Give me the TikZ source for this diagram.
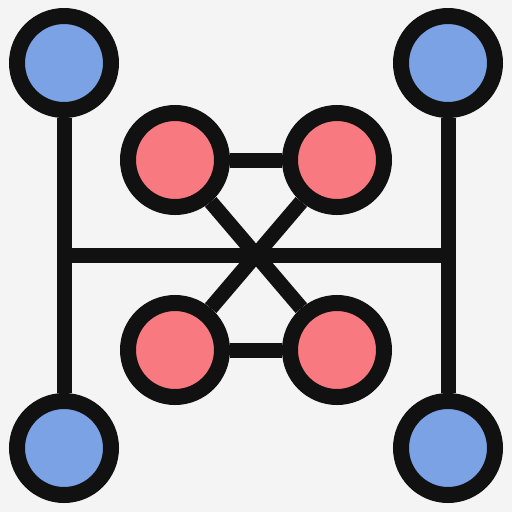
\documentclass[tikz,border=0pt]{standalone}
\usepackage{tikz}
\usetikzlibrary{positioning,calc}
\definecolor{bgGrey}{RGB}{244,244,244}
\definecolor{hubBlue}{RGB}{122,162,228}
\definecolor{coreRed}{RGB}{248,122,128}
\definecolor{inkBlack}{RGB}{17,17,17}
\begin{document}
\begin{tikzpicture}[
    hub/.style={circle, draw=inkBlack, fill=hubBlue, line width=0.32cm, minimum size=1.88cm, inner sep=0pt},
    core/.style={circle, draw=inkBlack, fill=coreRed, line width=0.32cm, minimum size=1.88cm, inner sep=0pt},
    wire/.style={draw=inkBlack, line width=0.3cm}
  ]
            \fill[bgGrey] (0,0) rectangle (10.24,-10.24);
            \useasboundingbox (0,0) rectangle (10.24,-10.24);

            % corner hubs
            \node (bluetl) [hub] at (1.28,-1.26) {};
            \node (bluetr) [hub, right of=bluetl, node distance=7.68cm] {};
            \node (bluebl) [hub, below of=bluetl, node distance=7.7cm] {};
            \node (bluebr) [hub, below of=bluetr, node distance=7.7cm] {};

            % inner cores
            \node (redtl) [core] at (3.5,-3.2) {};
            \node (redtr) [core, right of=redtl, node distance=3.24cm] {};
            \node (redbl) [core, below of=redtl, node distance=3.8cm] {};
            \node (redbr) [core, below of=redtr, node distance=3.8cm] {};

            \coordinate (midl) at ($(bluetl.center)!0.5!(bluebl.center)$);
            \coordinate (midr) at ($(bluetr.center)!0.5!(bluebr.center)$);

            \draw [wire] (bluetl) -- (bluebl);
            \draw [wire] (bluetr) -- (bluebr);
            \draw [wire] (midl) -- (midr);
            \draw [wire] (redtl) -- (redtr);
            \draw [wire] (redbl) -- (redbr);
            \draw [wire] (redtl) -- (redbr);
            \draw [wire] (redtr) -- (redbl);
        \end{tikzpicture}
\end{document}
